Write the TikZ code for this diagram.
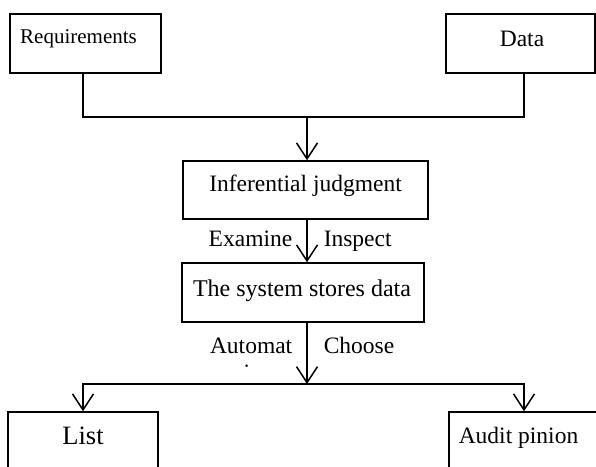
\documentclass[tikz,border=0pt]{standalone}
\usepackage{fontspec}
\setmainfont{Liberation Serif}
\usetikzlibrary{arrows.meta}

\begin{document}
\begin{tikzpicture}[
        x=1pt, y=-1pt,
        line width=1.5pt,
        box/.style={draw, rectangle, inner sep=0pt},
        txt/.style={font=\fontsize{23.5}{28}\selectfont, text height=0.7em, text depth=0.22em, inner sep=0pt},
        arr/.style={-{Straight Barb[length=16pt, width=21pt]}},
    ]
    \clip (0,0) rectangle (596,466);

    % inputs
    \node[box, minimum width=151pt, minimum height=59pt,
        label={[txt, font=\fontsize{21}{25}\selectfont, xshift=-7pt, yshift=2.2pt]center:Requirements}] (req) at (85.5,43.5) {};
    \node[box, minimum width=149pt, minimum height=59pt,
        label={[txt, xshift=1.5pt, yshift=-0.6pt]center:Data}] (data) at (520.5,43.5) {};

    % middle
    \node[box, minimum width=245pt, minimum height=58pt,
        label={[txt, yshift=1.4pt]center:Inferential judgment}] (inf) at (305.5,190) {};
    \node[box, minimum width=242pt, minimum height=59pt,
        label={[txt, font=\fontsize{24}{28}\selectfont, xshift=-1pt, yshift=-1.5pt]center:The system stores data}] (sys) at (303,292.5) {};

    % outputs
    \node[box, minimum width=150pt, minimum height=88pt,
        label={[txt, font=\fontsize{26.5}{31}\selectfont, yshift=13.6pt]center:List}] (list) at (83,456) {};
    \node[box, minimum width=171pt, minimum height=88pt,
        label={[txt, xshift=-16pt, yshift=14.9pt]center:Audit pinion}] (audit) at (534.5,456) {};

    \coordinate (join) at (307,117);
    \coordinate (split) at (307,384);

    \draw ([xshift=-2.5pt]req.south) |- (join) -| ([xshift=3.5pt]data.south);
    \draw[arr] (join) -- (join |- inf.north);
    \draw[arr] (inf.south -| join) -- (join |- sys.north);
    \draw[arr] (sys.south -| split) -- (split);
    \draw[arr] (split) -| (list.north);
    \draw[arr] (split) -| ([xshift=-10.5pt]audit.north);

    % edge labels
    \node[txt, anchor=base east] (exam) at (293,246) {Examine};
    \node[txt, anchor=base west] (insp) at (323,246) {Inspect};
    \node[txt, anchor=base east] (auto) at (293,353) {Automat};
    \node[txt, anchor=base west] (choose) at (323,353) {Choose};
    \begin{scope}
        \clip (200,355) rectangle (300,367.5);
        \node[txt, anchor=base] (autoic) at (252,380) {ic};
    \end{scope}

\end{tikzpicture}
\end{document}
